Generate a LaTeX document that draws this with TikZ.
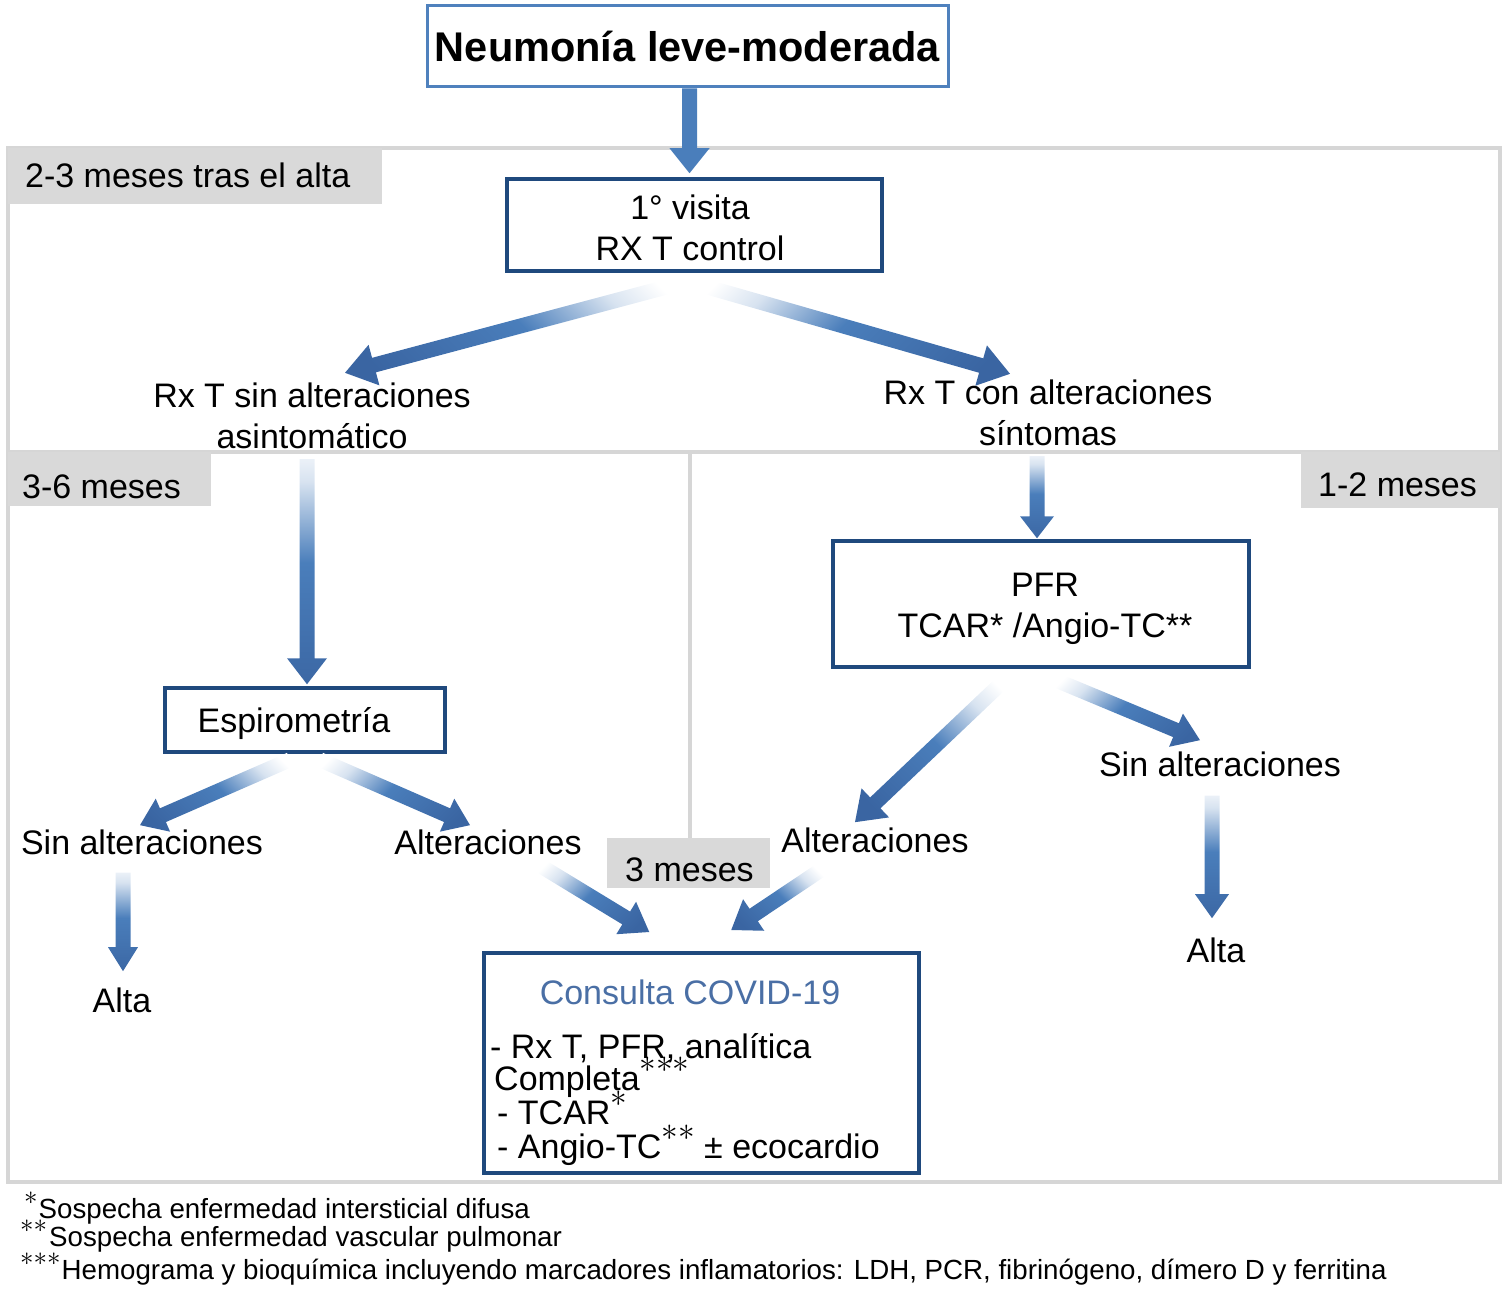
\documentclass[tikz,border=0pt]{standalone}
\usepackage{graphicx}
\usepackage{fontspec}
\setmainfont{Liberation Sans}
\usetikzlibrary{calc}
\definecolor{ablue}{HTML}{4A7EBB}
\definecolor{adark}{HTML}{3A65A2}
\colorlet{ablight}{ablue!22!white}
\definecolor{boxblue}{HTML}{1F497D}
\definecolor{topblue}{HTML}{4F81BD}
\definecolor{framegray}{HTML}{D6D6D6}
\definecolor{labelgray}{HTML}{D9D9D9}
\definecolor{titleblue}{HTML}{4A6FA5}
\pgfdeclareverticalshading{ashade}{100bp}{color(0bp)=(white); color(20bp)=(white); color(30bp)=(ablight); color(48bp)=(ablue); color(78bp)=(adark); color(100bp)=(adark)}
% arrow: {style}{start}{end}{head half width}{head length}
\newcommand\garrow[5]{%
  \coordinate (ga-s) at (#2);
  \coordinate (ga-e) at (#3);
  \coordinate (ga-h) at ($(ga-e)!#5pt!(ga-s)$);
  \path[#1]
    ($(ga-s)!7.5pt!90:(ga-e)$) -- ($(ga-h)!7.5pt!-90:(ga-s)$) -- ($(ga-h)!#4pt!-90:(ga-s)$)
    -- (ga-e) -- ($(ga-h)!#4pt!90:(ga-s)$) -- ($(ga-h)!7.5pt!90:(ga-s)$)
    -- ($(ga-s)!7.5pt!-90:(ga-e)$) -- cycle;
}
\newcommand\boxast[1]{\raisebox{18pt}{\fontsize{20}{20}\selectfont\scalebox{1.6}{$#1$}}}
\newcommand\fnast[1]{\raisebox{14pt}{\fontsize{20}{20}\selectfont\scalebox{1.3}{$#1$}}}
\tikzset{
  every node/.style={font=\fontsize{34}{41}\selectfont, inner sep=0pt, text=black},
  bbox/.style={draw=boxblue, line width=3.5pt, fill=white},
  glabel/.style={fill=labelgray, anchor=north west},
  frame/.style={draw=framegray, line width=3.5pt},
  fnote/.style={font=\fontsize{27.7}{32}\selectfont, anchor=base west},
  solidarrow/.style={fill=ablue},
  gdown/.style={shade, shading=ashade, shading angle=180},
  gdl/.style={shade, shading=ashade, shading angle=135},
  gdr/.style={shade, shading=ashade, shading angle=-135},
}
\begin{document}
\begin{tikzpicture}[x=1pt,y=-1pt]
\useasboundingbox (0,0) rectangle (1508,1295);

% frames
\draw[frame] (8,148) rectangle (1500,452);
\draw[frame] (8,452) rectangle (1500,1182);
\draw[frame] (690,452) -- (690,840);

% period labels
\node[glabel, minimum width=374, minimum height=56] (l23) at (8,148) {};
\node[glabel, minimum width=203, minimum height=54] (l36) at (8,452) {};
\node[glabel, minimum width=199, minimum height=56] (l12) at (1301,452) {};
\node[glabel, minimum width=163, minimum height=50] (l3) at (607,838) {};
\node[anchor=base west] (t23) at (25,188) {2-3 meses tras el alta};
\node[anchor=base west] (t36) at (22,498) {3-6 meses};
\node[anchor=base west] (t12) at (1318,496) {1-2 meses};
\node[anchor=base west] (t3) at (625,881) {3 meses};

% boxes
\node[draw=topblue, line width=3pt, fill=white, minimum width=521, minimum height=81,
      font=\fontsize{41.5}{48}\selectfont\bfseries] (neu) at (687.5,46.5) {Neumonía leve-moderada};
\node[bbox, minimum width=375, minimum height=92] (visit) at (694.5,225) {};
\node[align=center] (visittxt) at (690,228) {1° visita\\RX T control};
\node[bbox, minimum width=280, minimum height=64] (esp) at (305,720) {};
\node[anchor=base] (esptxt) at (294,732) {Espirometría};
\node[bbox, minimum width=416, minimum height=126] (pfr) at (1041,604) {};
\node[align=center] (pfrtxt) at (1045,609) {PFR\\TCAR* /Angio-TC**};
\node[bbox, minimum width=435, minimum height=220, anchor=north west] (cons) at (482,951) {};

% consulta text
\node[anchor=base, text=titleblue] (ctitle) at (690,1004) {Consulta COVID-19};
\node[anchor=base west] (c1) at (490,1058) {- Rx T, PFR, analítica};
\node[anchor=base west] (c2) at (494,1090) {Completa\boxast{{*}{*}{*}}};
\node[anchor=base west] (c3) at (497,1124) {- TCAR\boxast{*}};
\node[anchor=base west] (c4) at (497,1158) {- Angio-TC\boxast{{*}{*}} ± ecocardio};

% text nodes
\node[align=center] (rxsin) at (312,416) {Rx T sin alteraciones\\asintomático};
\node[align=center] (rxcon) at (1048,413) {Rx T con alteraciones\\síntomas};
\node[anchor=base] (sinL) at (142,854) {Sin alteraciones};
\node[anchor=base] (altL) at (488,854) {Alteraciones};
\node[anchor=base] (altR) at (875,852) {Alteraciones};
\node[anchor=base] (sinR) at (1220,776) {Sin alteraciones};
\node[anchor=base] (altaL) at (122,1012) {Alta};
\node[anchor=base] (altaR) at (1216,962) {Alta};

% arrows
\garrow{solidarrow}{$(neu.south)+(2,0)$}{$(neu.south |- visit.north)+(2,-4)$}{20}{25}
\garrow{gdl}{$(visit.south)+(-12,10)$}{$(rxsin.north)+(33,-10)$}{21}{30}
\garrow{gdr}{$(visit.south)+(-2,10)$}{$(rxcon.north)+(-38,-6)$}{21}{30}
\garrow{gdown}{$(rxsin.south)+(-5,10)$}{$(esp.north)+(2,-2)$}{20}{26}
\garrow{gdl}{$(esp.south)+(-15,6)$}{$(sinL.north)+(-2,-4)$}{18}{25}
\garrow{gdr}{$(esp.south)+(15,6)$}{$(altL.north)+(-18,-4)$}{18}{25}
\garrow{gdown}{$(sinL.south)+(-19,18)$}{$(altaL.north)+(1,-16)$}{15}{24}
\garrow{gdr}{$(altL.south)+(52,11)$}{$(cons.north)+(-52,-19)$}{19}{27}
\garrow{gdl}{$(altR.south)+(-55,18)$}{$(cons.north)+(30,-21)$}{19}{27}
\garrow{gdown}{$(rxcon.south)+(-11,10)$}{$(pfr.north)+(-4,-1)$}{17}{22}
\garrow{gdl}{$(pfr.south)+(-36,11)$}{$(altR.north)+(-20,-5)$}{20}{28}
\garrow{gdr}{$(pfr.south)+(14,11)$}{$(sinR.north)+(-20,-11)$}{18}{26}
\garrow{gdown}{$(sinR.south)+(-8,19)$}{$(altaR.north)+(-4,-19)$}{17}{24}

% footnotes
\node[fnote] (fn1) at (24,1218) {\fnast{*}\hspace{1pt}Sospecha enfermedad intersticial difusa};
\node[fnote] (fn2) at (20,1246) {\fnast{{*}{*}}\hspace{2pt}Sospecha enfermedad vascular pulmonar};
\node[fnote] (fn3) at (20,1279) {\fnast{{*}{*}{*}}\hspace{1pt}Hemograma y bioquímica incluyendo marcadores inflamatorios: LDH, PCR, fibrinógeno, dímero D y ferritina};
\end{tikzpicture}
\end{document}
